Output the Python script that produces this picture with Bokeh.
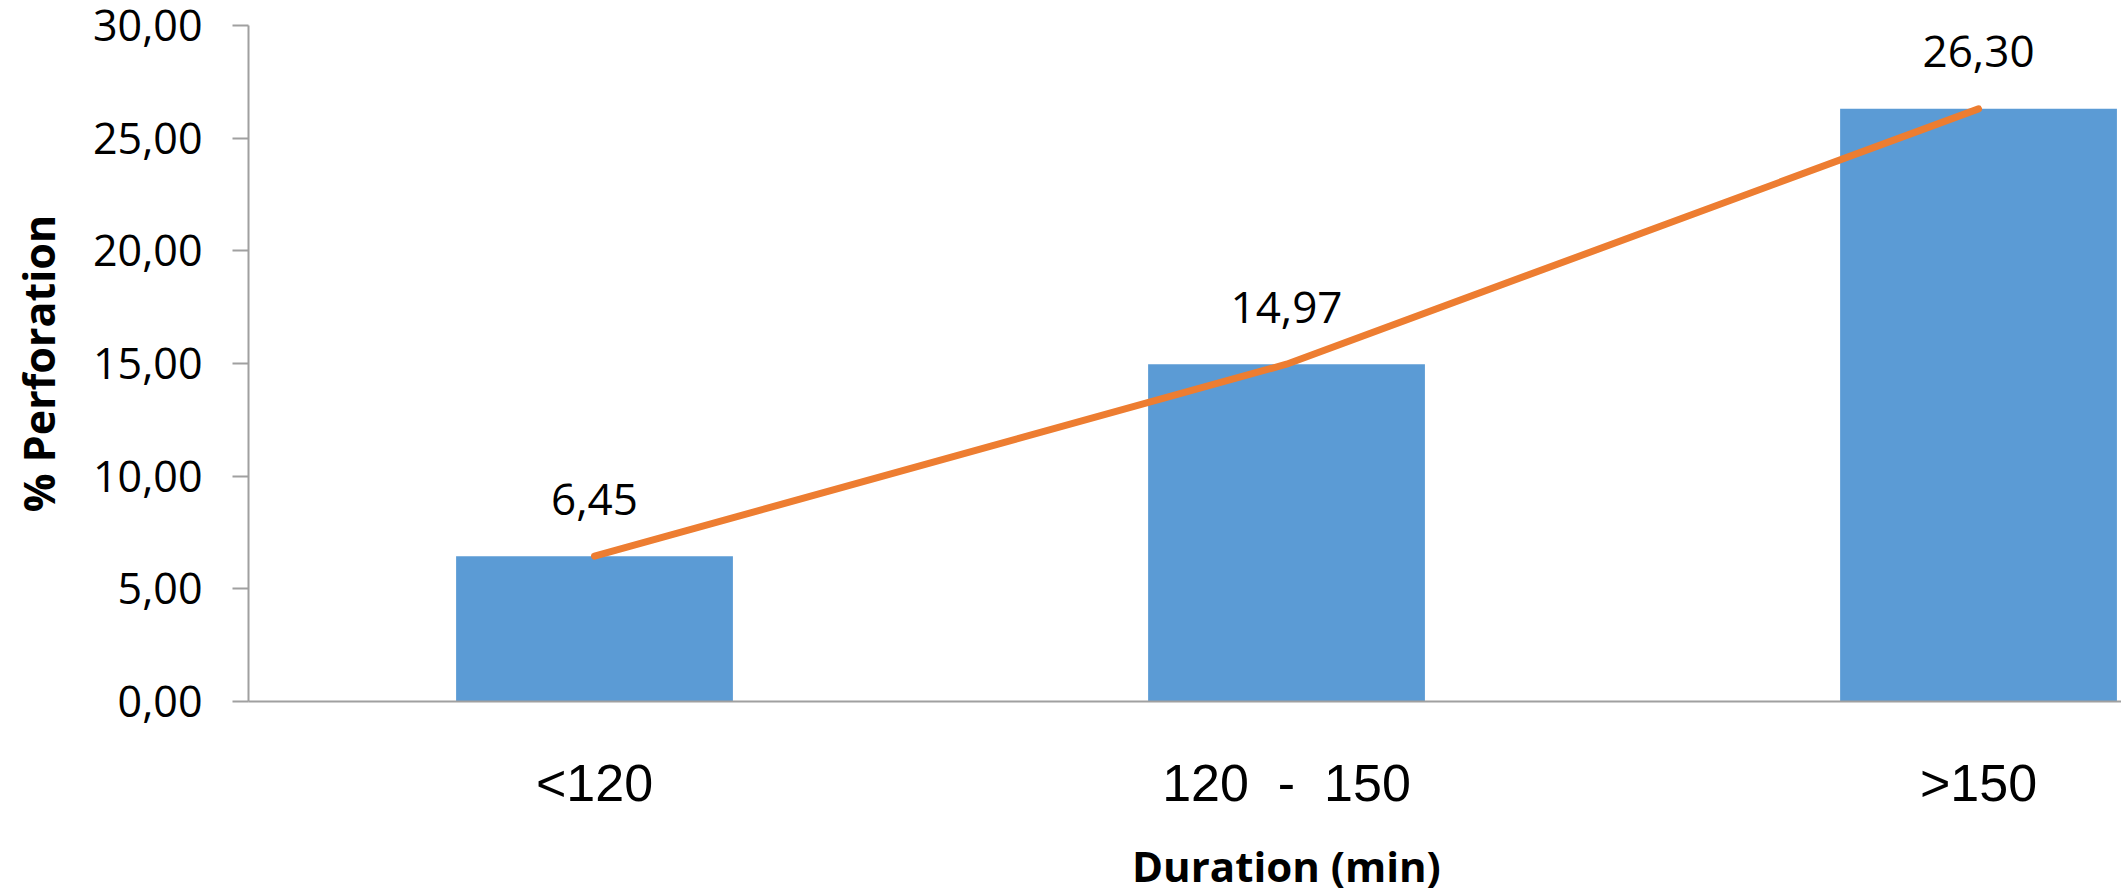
from bokeh.plotting import figure
from bokeh.models import FixedTicker, Range1d, Title, ColumnDataSource
from bokeh.core.properties import value
from bokeh.embed import file_html
from bokeh.resources import INLINE

# Perforation rate by procedure duration
categories = ["<120", "120  -  150", ">150"]
perforation = [6.45, 14.97, 26.30]
y_ticks = [0, 5, 10, 15, 20, 25, 30]
y_tick_labels = ["0,00", "5,00", "10,00", "15,00", "20,00", "25,00", "30,00"]
x_title = "Duration (min)"
y_title = "% Perforation"

BAR_COLOR = "#5B9BD5"
LINE_COLOR = "#ED7D31"
AXIS_COLOR = "#A0A0A0"

W, H = 2121, 895
LEFT, TOP, BOTTOM = 248, 25, 194
X_END = 2.7066

positions = [i + 0.5 for i in range(len(categories))]
labels = [f"{v:.2f}".replace(".", ",") for v in perforation]
src = ColumnDataSource(dict(x=positions, y=perforation, label=labels))

# keep runs of spaces visible in the svg text
shown_categories = [c.replace("  ", "\u00a0 ") for c in categories]

p = figure(
    width=W, height=H,
    x_range=Range1d(0, X_END), y_range=Range1d(0, 30),
    output_backend="svg", toolbar_location=None,
    min_border_left=LEFT, min_border_right=0,
    min_border_top=TOP, min_border_bottom=BOTTOM,
)
p.outline_line_color = None
p.xgrid.grid_line_color = None
p.ygrid.grid_line_color = None
p.background_fill_color = "white"
p.border_fill_color = "white"

# bars
p.vbar(x="x", top="y", width=0.4, bottom=0, source=src,
       fill_color=BAR_COLOR, line_color=None)

# trend line through the bar tops
p.line(x="x", y="y", source=src, line_color=LINE_COLOR, line_width=7,
       line_cap="round", line_join="round")

# value labels above each bar
p.text(x="x", y="y", text="label", source=src,
       text_font=value("Open Sans"), text_font_size="44px",
       text_color="black", text_align="center", text_baseline="middle",
       y_offset=-57)

# y axis
ya = p.yaxis[0]
ya.ticker = FixedTicker(ticks=y_ticks)
ya.major_label_overrides = {t: s for t, s in zip(y_ticks, y_tick_labels)}
ya.axis_line_color = AXIS_COLOR
ya.axis_line_width = 2
ya.major_tick_line_color = AXIS_COLOR
ya.major_tick_line_width = 2
ya.major_tick_out = 16
ya.major_tick_in = 0
ya.minor_tick_line_color = None
ya.major_label_standoff = 30
ya.major_label_text_font = "Open Sans"
ya.major_label_text_font_size = "43px"
ya.major_label_text_color = "black"
ya.axis_label = y_title
ya.axis_label_text_font = "Open Sans"
ya.axis_label_text_font_style = "bold"
ya.axis_label_text_font_size = "43px"
ya.axis_label_text_color = "black"
ya.axis_label_standoff = 22

# x axis
xa = p.xaxis[0]
xa.ticker = FixedTicker(ticks=positions)
xa.major_label_overrides = {t: s for t, s in zip(positions, shown_categories)}
xa.axis_line_color = AXIS_COLOR
xa.axis_line_width = 2
xa.major_tick_line_color = None
xa.major_tick_out = 0
xa.major_tick_in = 0
xa.minor_tick_line_color = None
xa.major_label_standoff = 52
xa.major_label_text_font = "Liberation Sans"
xa.major_label_text_font_size = "52px"
xa.major_label_text_color = "black"

# x axis title, centred under the middle category, near the bottom edge
title_width = 309
middle_px = LEFT + positions[1] / X_END * (W - LEFT)
p.add_layout(Title(
    text=x_title, align="left", offset=middle_px - LEFT - title_width / 2,
    vertical_align="top", standoff=0,
    padding=dict(left=0, right=0, top=22, bottom=0),
    text_font="Open Sans", text_font_style="bold",
    text_font_size="42px", text_color="black",
), "below")

open("out.html", "w").write(file_html(p, INLINE))
